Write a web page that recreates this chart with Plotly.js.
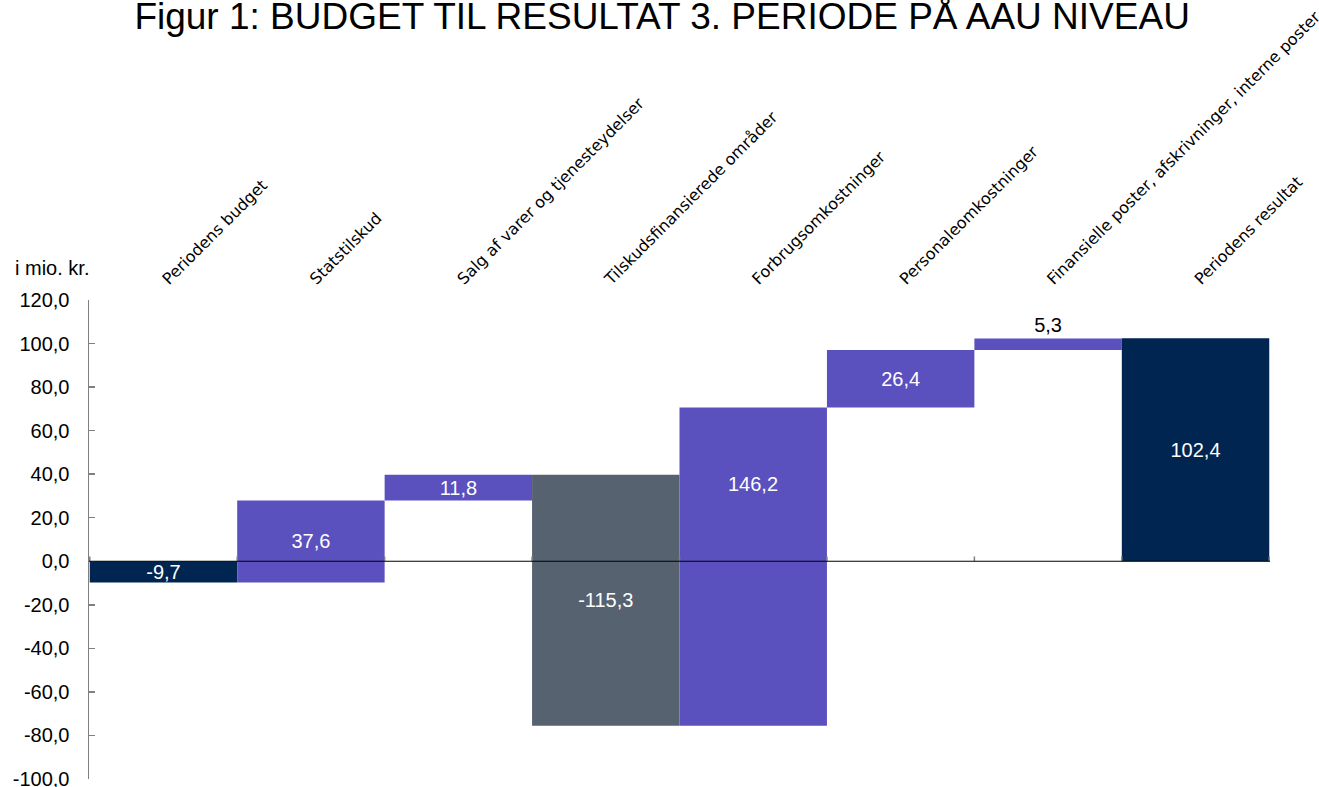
<!DOCTYPE html>
<html>
<head>
<meta charset="utf-8">
<script src="https://cdn.plot.ly/plotly-3.0.1.min.js"></script>
<style>html,body{margin:0;padding:0;background:#fff;}#chart{width:1319px;height:787px;}</style>
</head>
<body>
<div id="chart"></div>
<script>
const categories = ["Periodens budget", "Statstilskud", "Salg af varer og tjenesteydelser", "Tilskudsfinansierede områder", "Forbrugsomkostninger", "Personaleomkostninger", "Finansielle poster, afskrivninger, interne poster", "Periodens resultat"];
const values = [-9.7, 37.6, 11.8, -115.3, 146.2, 26.4, 5.3, 102.4];
const measures = ["absolute", "relative", "relative", "relative", "relative", "relative", "relative", "absolute"];
const yTickVals = [-100, -80, -60, -40, -20, 0, 20, 40, 60, 80, 100, 120];

const fmt = v => v.toFixed(1).replace('.', ',');
const yTickText = yTickVals.map(fmt);

// cumulative ends (for label placement of the Forbrug bar, whose label sits in its positive part)
const ends = [];
let run = 0;
values.forEach((v, i) => { run = measures[i] === 'absolute' ? v : run + v; ends.push(run); });

const texts = values.map((v, i) => i === 4 ? '' : fmt(v));
const textpos = values.map((v, i) => i === 6 ? 'outside' : 'inside');
const FONT = 'Liberation Sans, Arial, sans-serif';

const trace = {
  type: 'waterfall',
  x: categories,
  y: values,
  measure: measures,
  text: texts,
  textposition: textpos,
  textangle: 0,
  constraintext: 'none',
  insidetextanchor: 'middle',
  insidetextfont: {family: FONT, size: 20, color: '#ffffff'},
  outsidetextfont: {family: FONT, size: 20, color: '#000000'},
  connector: {visible: false},
  increasing: {marker: {color: '#5A50BE', line: {width: 0}}},
  decreasing: {marker: {color: '#56626F', line: {width: 0}}},
  totals: {marker: {color: '#002550', line: {width: 0}}},
  cliponaxis: false,
  hoverinfo: 'skip'
};

const shapes = [];
for (let i = 0; i <= categories.length; i++) {
  shapes.push({type: 'line', xref: 'x', yref: 'y', x0: i - 0.5, x1: i - 0.5, y0: 0, y1: 2.2, line: {color: '#808080', width: 1.5}});
}
shapes.push({type: 'line', xref: 'paper', yref: 'y', x0: 0, x1: 1, y0: 0, y1: 0, line: {color: '#000000', width: 1.2}});

const annotations = [
  {xref: 'paper', yref: 'paper', x: -0.064, y: 1.04, xanchor: 'left', yanchor: 'bottom', text: 'i mio. kr.', showarrow: false,
   font: {family: FONT, size: 20, color: '#000'}},
  {xref: 'x', yref: 'y', x: categories[4], y: Math.max(ends[4], 0) / 2, text: fmt(values[4]), showarrow: false,
   font: {family: FONT, size: 20, color: '#ffffff'}}
];

const layout = {
  width: 1319, height: 787,
  margin: {l: 89, r: 49, t: 300, b: 8},
  paper_bgcolor: '#ffffff', plot_bgcolor: '#ffffff',
  separators: ',.',
  showlegend: false,
  waterfallgap: 0,
  title: {text: 'Figur 1: BUDGET TIL RESULTAT 3. PERIODE PÅ AAU NIVEAU', x: 0.502, xanchor: 'center', y: 1, yref: 'container', yanchor: 'top', pad: {t: 3},
          font: {family: FONT, size: 37, color: '#000'}},
  xaxis: {type: 'category', side: 'top', tickangle: -45, showline: false, showgrid: false, zeroline: false, ticks: '',
          tickfont: {family: 'DejaVu Sans, sans-serif', size: 16, color: '#000'}, automargin: false, ticklabelstandoff: 8},
  yaxis: {range: [-100, 120], tickvals: yTickVals, ticktext: yTickText, showgrid: false, zeroline: false,
          showline: true, linecolor: '#808080', linewidth: 1.5, ticks: 'inside', ticklen: 6, tickcolor: '#808080', tickwidth: 1.5,
          tickfont: {family: FONT, size: 20, color: '#000'}, automargin: false, ticklabelstandoff: 14, ticklabeloverflow: 'allow'},
  shapes: shapes,
  annotations: annotations
};

Plotly.newPlot('chart', [trace], layout, {displayModeBar: false, staticPlot: true});
</script>
</body>
</html>
